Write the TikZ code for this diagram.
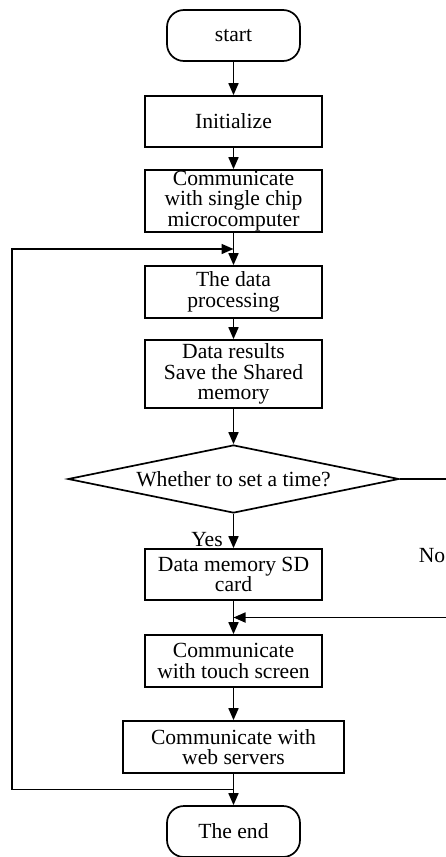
\documentclass[tikz,border=0pt]{standalone}
\usepackage{fontspec}
\setmainfont{Liberation Serif}
\usetikzlibrary{shapes.geometric,arrows.meta,calc}

\tikzset{
  box/.style={draw,line width=1.7pt,minimum width=177pt,minimum height=51pt,align=center,inner sep=0pt},
  term/.style={box,rounded corners=17pt,minimum width=133pt},
  decide/.style={draw,line width=1.7pt,diamond,aspect=4.87,minimum width=331pt,minimum height=68pt,inner sep=0pt},
  flow/.style={line width=1.7pt,-{Triangle[length=12pt,width=10pt]}},
}

\begin{document}
\begin{tikzpicture}[x=1pt,y=-1pt,font=\fontsize{21.6pt}{20.6pt}\selectfont]
  \clip (0,0) rectangle (446,857);

  \node[term] (start) at (233.5,35.5) {start};
  \node[box] (init) at (233.5,121.5) {Initialize};
  \node[box,minimum height=62pt] (chip) at (233.5,201) {Communicate\\with single chip\\microcomputer};
  \node[box,minimum height=52pt] (proc) at (233.5,292) {The data\\processing};
  \node[box,minimum height=68pt] (save) at (233.5,374) {Data results\\Save the Shared\\memory};
  \node[decide] (timeq) at (233.5,479) {Whether to set a time?};
  \node[box] (sdcard) at (233.5,574.5) {Data memory SD\\card};
  \node[box,minimum height=52pt] (touch) at (233.5,661) {Communicate\\with touch screen};
  \node[box,minimum width=221pt,minimum height=52pt] (web) at (233.5,747) {Communicate with\\web servers};
  \node[term] (theend) at (233.5,831.5) {The end};

  \node (yes) at (207,540) {Yes};
  \node (no) at (432,556) {No};

  \draw[flow] (start) -- (init);
  \draw[flow] (init) -- (chip);
  \draw[flow] (chip) -- (proc);
  \draw[flow] (proc) -- (save);
  \draw[flow] (save) -- (timeq);
  \draw[flow] (timeq) -- (sdcard);
  \draw[flow] (sdcard) -- (touch);
  \draw[flow] (touch) -- (web);
  \draw[flow] (web) -- (theend);

  % no branch and loop back
  \draw[flow] (timeq.east) -- ++(50,0) |- ($(sdcard.south)!.5!(touch.north)$);
  \draw[flow] ($(web.south)!.5!(theend.north)$) -- ++(-221.5,0) |- ($(chip.south)!.5!(proc.north)$);
\end{tikzpicture}
\end{document}
